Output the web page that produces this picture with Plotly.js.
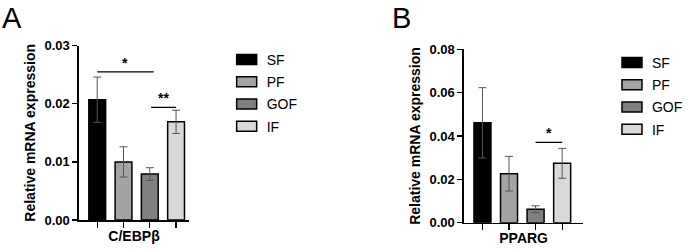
<!DOCTYPE html>
<html>
<head>
<meta charset="utf-8">
<script src="https://cdn.plot.ly/plotly-3.0.1.min.js"></script>
<style>
html,body{margin:0;padding:0;background:#fff;}
#chart{width:688px;height:249px;}
</style>
</head>
<body>
<div id="chart"></div>
<script>
// ---- data ----
const groups = ["SF", "PF", "GOF", "IF"];
const groupColors = ["#000000", "#a3a3a3", "#808080", "#d9d9d9"];

const geneA = "C/EBPβ";
const meanA = [0.0207, 0.0100, 0.0079, 0.0169];
const errA  = [0.0039, 0.0026, 0.0011, 0.0020];

const geneB = "PPARG";
const meanB = [0.0461, 0.0226, 0.0062, 0.0274];
const errB  = [0.0162, 0.0080, 0.0016, 0.0069];

// significance brackets: [fromIndex, toIndex, yValue, label]
const sigA = [[0, 2.15, 0.0255, "*"], [2.05, 3, 0.0194, "**"]];
const sigB = [[2, 3, 0.0371, "*"]];

const yTicksA = [0, 0.01, 0.02, 0.03];
const yTickTextA = ["0.00", "0.01", "0.02", "0.03"];
const yTicksB = [0, 0.02, 0.04, 0.06, 0.08];
const yTickTextB = ["0.00", "0.02", "0.04", "0.06", "0.08"];

// ---- build ----
const FONT = "'Liberation Sans', Arial, sans-serif";
const traces = [];
function addPanel(means, errs, xa, ya, leg, tag) {
  groups.forEach((g, i) => {
    traces.push({
      type: "bar",
      x: [g], y: [means[i]],
      name: g,
      xaxis: xa, yaxis: ya,
      legend: leg,
      legendgroup: tag + g,
      width: 0.64,
      marker: {color: groupColors[i], line: {color: "#000", width: 1.5}},
      error_y: {type: "data", array: [errs[i]], visible: true, color: "#555555", thickness: 1, width: 4},
      showlegend: true
    });
  });
}
addPanel(meanA, errA, "x", "y", "legend", "a");
addPanel(meanB, errB, "x2", "y2", "legend2", "b");

const shapes = [];
const annotations = [];
function addSig(sig, xref, yref) {
  sig.forEach(s => {
    shapes.push({type: "line", xref: xref, yref: yref, x0: s[0], x1: s[1], y0: s[2], y1: s[2],
      line: {color: "#000", width: 1.2}});
    annotations.push({xref: xref, yref: yref, x: (s[0] + s[1]) / 2, y: s[2], text: s[3],
      showarrow: false, yanchor: "bottom", yshift: -1,
      font: {family: FONT, size: 14, color: "#000", weight: "bold"}});
  });
}
addSig(sigA, "x", "y");
addSig(sigB, "x2", "y2");

annotations.push({xref: "paper", yref: "paper", x: 0, y: 1 - 18/249, xanchor: "left", yanchor: "middle",
  text: "A", showarrow: false, font: {family: FONT, size: 29, color: "#000"}});
annotations.push({xref: "paper", yref: "paper", x: 396/688, y: 1 - 18/249, xanchor: "left", yanchor: "middle",
  text: "B", showarrow: false, font: {family: FONT, size: 29, color: "#000"}});

const xCommon = {
  type: "category", showline: true, linecolor: "#000", linewidth: 1.5,
  ticks: "outside", ticklen: 6, tickwidth: 1.2, tickcolor: "#000",
  showticklabels: false, showgrid: false, zeroline: false, fixedrange: true
};
const yCommon = {
  showline: true, linecolor: "#000", linewidth: 1.5,
  ticks: "outside", ticklen: 5, tickwidth: 1.2, tickcolor: "#000",
  showgrid: false, zeroline: false,
  tickfont: {family: FONT, size: 13, color: "#000", weight: "bold"},
  title: {text: "Relative mRNA expression", standoff: 5,
          font: {family: FONT, size: 14, color: "#000", weight: "bold"}}
};
const xTitleFont = {family: FONT, size: 14, color: "#000", weight: "bold"};
const legFont = {family: FONT, size: 14, color: "#000"};

const layout = {
  width: 688, height: 249,
  margin: {l: 0, r: 0, t: 0, b: 0},
  paper_bgcolor: "#fff", plot_bgcolor: "#fff",
  font: {family: FONT, color: "#000"},
  bargap: 0,
  xaxis: Object.assign({}, xCommon, {domain: [80/688, 192/688], range: [-0.7, 3.5], anchor: "y",
    title: {text: geneA, standoff: 4, font: xTitleFont}}),
  yaxis: Object.assign({}, yCommon, {domain: [29/249, 203.3/249], range: [0, 0.03], anchor: "x",
    tickvals: yTicksA, ticktext: yTickTextA}),
  xaxis2: Object.assign({}, xCommon, {domain: [470.7/688, 592/688], range: [-0.7, 3.8], anchor: "y2",
    title: {text: geneB, standoff: 4, font: xTitleFont}}),
  yaxis2: Object.assign({}, yCommon, {domain: [26.3/249, 199.7/249], range: [0, 0.08], anchor: "x2",
    tickvals: yTicksB, ticktext: yTickTextB}),
  legend: {x: 230/688, y: 1 - 44/249, xanchor: "left", yanchor: "top", bgcolor: "rgba(0,0,0,0)",
    font: legFont, tracegroupgap: 1, itemclick: false},
  legend2: {x: 621/688, y: 1 - 47/249, xanchor: "left", yanchor: "top", bgcolor: "rgba(0,0,0,0)",
    font: legFont, tracegroupgap: 1, itemclick: false},
  shapes: shapes,
  annotations: annotations,
  showlegend: true
};

Plotly.newPlot("chart", traces, layout, {staticPlot: true, displayModeBar: false}).then(gd => {
  // widen legend swatches into flat rectangles like the reference
  gd.querySelectorAll(".legendpoints path").forEach(p => {
    p.setAttribute("d", "M10,5H-10V-5H10Z");
  });
});
</script>
</body>
</html>
